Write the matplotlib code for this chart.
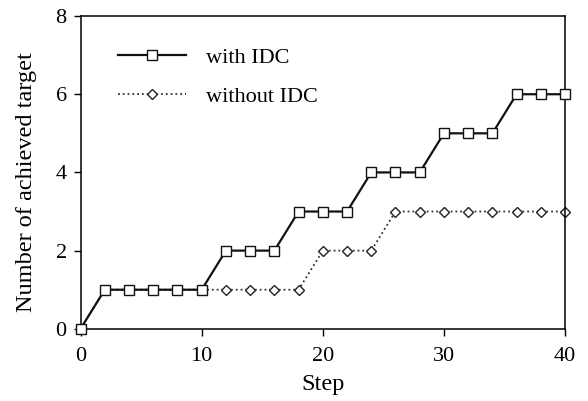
import matplotlib
matplotlib.use("Agg")
import matplotlib.pyplot as plt

# data
steps = [0, 2, 4, 6, 8, 10, 12, 14, 16, 18, 20, 22, 24, 26, 28, 30, 32, 34, 36, 38, 40]
with_idc = [0, 1, 1, 1, 1, 1, 2, 2, 2, 3, 3, 3, 4, 4, 4, 5, 5, 5, 6, 6, 6]
without_idc = [0, 1, 1, 1, 1, 1, 1, 1, 1, 1, 2, 2, 2, 3, 3, 3, 3, 3, 3, 3, 3]
x_ticks = [0, 10, 20, 30, 40]
y_ticks = [0, 2, 4, 6, 8]

plt.rcParams["font.family"] = ["Liberation Serif", "DejaVu Serif"]

fig = plt.figure(figsize=(5.88, 4.01), dpi=100)
ax = fig.add_axes([0.137, 0.180, 0.824, 0.780])

l2, = ax.plot(steps, without_idc, linestyle=":", color="#333333", linewidth=1.3,
              marker="D", markersize=5, markerfacecolor="white",
              markeredgecolor="#222222", markeredgewidth=1.0, zorder=2,
              label="without IDC", clip_on=False)
l1, = ax.plot(steps, with_idc, linestyle="-", color="#111111", linewidth=1.6,
              marker="s", markersize=7, markerfacecolor="white",
              markeredgecolor="#111111", markeredgewidth=1.0, zorder=3,
              label="with IDC", clip_on=False)

ax.set_xlim(0, 40)
ax.set_ylim(0, 8)
ax.set_xticks(x_ticks)
ax.set_yticks(y_ticks)
ax.tick_params(direction="out", length=5, width=1, labelsize=16)
ax.tick_params(axis="x", pad=8)
ax.tick_params(axis="y", pad=5)
for s in ax.spines.values():
    s.set_linewidth(1.1)

ax.set_xlabel("Step", fontsize=17.5, labelpad=6)
ax.set_ylabel("Number of achieved target", fontsize=17.5)
ax.yaxis.set_label_coords(-0.09, 0.47)

ax.legend(handles=[l1, l2], loc="upper left", frameon=False, fontsize=16,
          handlelength=3.1, handletextpad=0.9, labelspacing=0.85,
          bbox_to_anchor=(0.035, 0.965))

fig.savefig("out.png", dpi=100)
